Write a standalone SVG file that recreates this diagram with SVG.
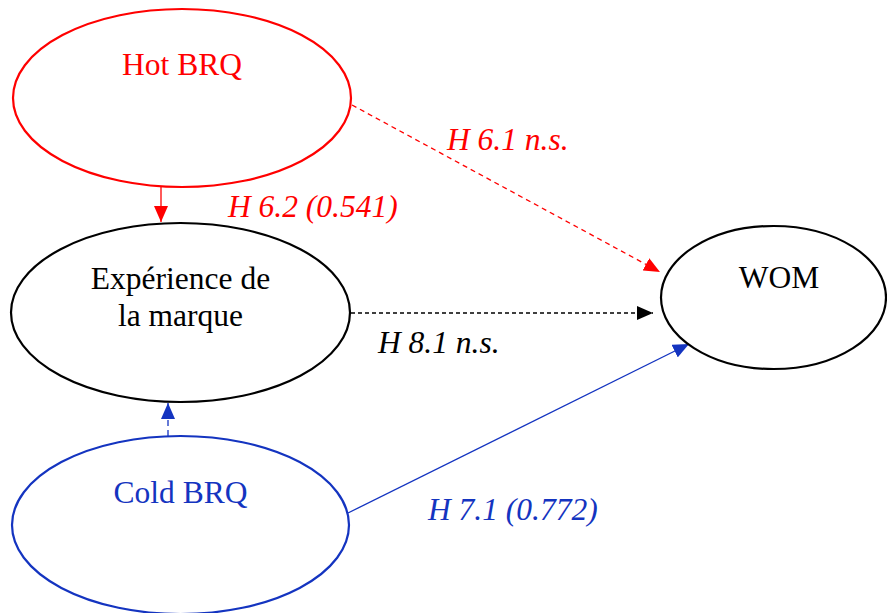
<svg xmlns="http://www.w3.org/2000/svg" width="887" height="613" viewBox="0 0 887 613">
<style>
.node{fill:#fff;stroke-width:2.2}
.t{font-size:31.5px;text-anchor:middle}
.lbl{font-size:31.5px;font-style:italic}
.red{stroke:#ff0000}
.blk{stroke:#000}
.blu{stroke:#1434c0}
</style>
<defs>
<marker id="ar" viewBox="0 0 16 14" refX="16" refY="7" markerWidth="16" markerHeight="14" markerUnits="userSpaceOnUse" orient="auto"><path d="M0,0 L16,7 L0,14 Z" fill="#ff0000"/></marker>
<marker id="ak" viewBox="0 0 16 14" refX="16" refY="7" markerWidth="16" markerHeight="14" markerUnits="userSpaceOnUse" orient="auto"><path d="M0,0 L16,7 L0,14 Z" fill="#000"/></marker>
<marker id="ab" viewBox="0 0 16 14" refX="16" refY="7" markerWidth="16" markerHeight="14" markerUnits="userSpaceOnUse" orient="auto"><path d="M0,0 L16,7 L0,14 Z" fill="#1434c0"/></marker>
</defs>
<g id="connectors" fill="none" stroke-width="1.3">
<line x1="161" y1="187" x2="161" y2="222" class="red" marker-end="url(#ar)"/>
<line x1="352" y1="105" x2="660" y2="272" class="red" stroke-dasharray="5 4" marker-end="url(#ar)"/>
<line x1="351" y1="313" x2="653" y2="313" class="blk" stroke-dasharray="4 3" marker-end="url(#ak)"/>
<line x1="168" y1="436" x2="168" y2="403" class="blu" stroke-dasharray="6 4" marker-end="url(#ab)"/>
<line x1="348" y1="513" x2="689" y2="344" class="blu" marker-end="url(#ab)"/>
</g>
<g font-family="'Liberation Serif', 'Tinos', 'Times New Roman', 'DejaVu Serif', serif">
<g id="hot">
<ellipse cx="182" cy="98" rx="169" ry="89" class="node red"/>
<text x="182" y="75" class="t" fill="#ff0000">Hot BRQ</text>
</g>
<g id="exp">
<ellipse cx="180.5" cy="312.5" rx="169.5" ry="89.5" class="node blk"/>
<text x="180.5" y="289" class="t" fill="#000">Expérience de</text>
<text x="180.5" y="326" class="t" fill="#000">la marque</text>
</g>
<g id="cold">
<ellipse cx="180.5" cy="525" rx="168.5" ry="89" class="node blu"/>
<text x="180.5" y="503" class="t" fill="#1434c0">Cold BRQ</text>
</g>
<g id="wom">
<ellipse cx="773.5" cy="297.5" rx="112.5" ry="71.5" class="node blk"/>
<text x="779" y="288" class="t" fill="#000">WOM</text>
</g>
<g id="labels">
<text x="447" y="150" class="lbl" fill="#ff0000">H 6.1 n.s.</text>
<text x="228" y="217" class="lbl" fill="#ff0000">H 6.2 (0.541)</text>
<text x="378" y="353" class="lbl" fill="#000">H 8.1 n.s.</text>
<text x="428" y="520" class="lbl" fill="#1434c0">H 7.1 (0.772)</text>
</g>
</g>
</svg>
